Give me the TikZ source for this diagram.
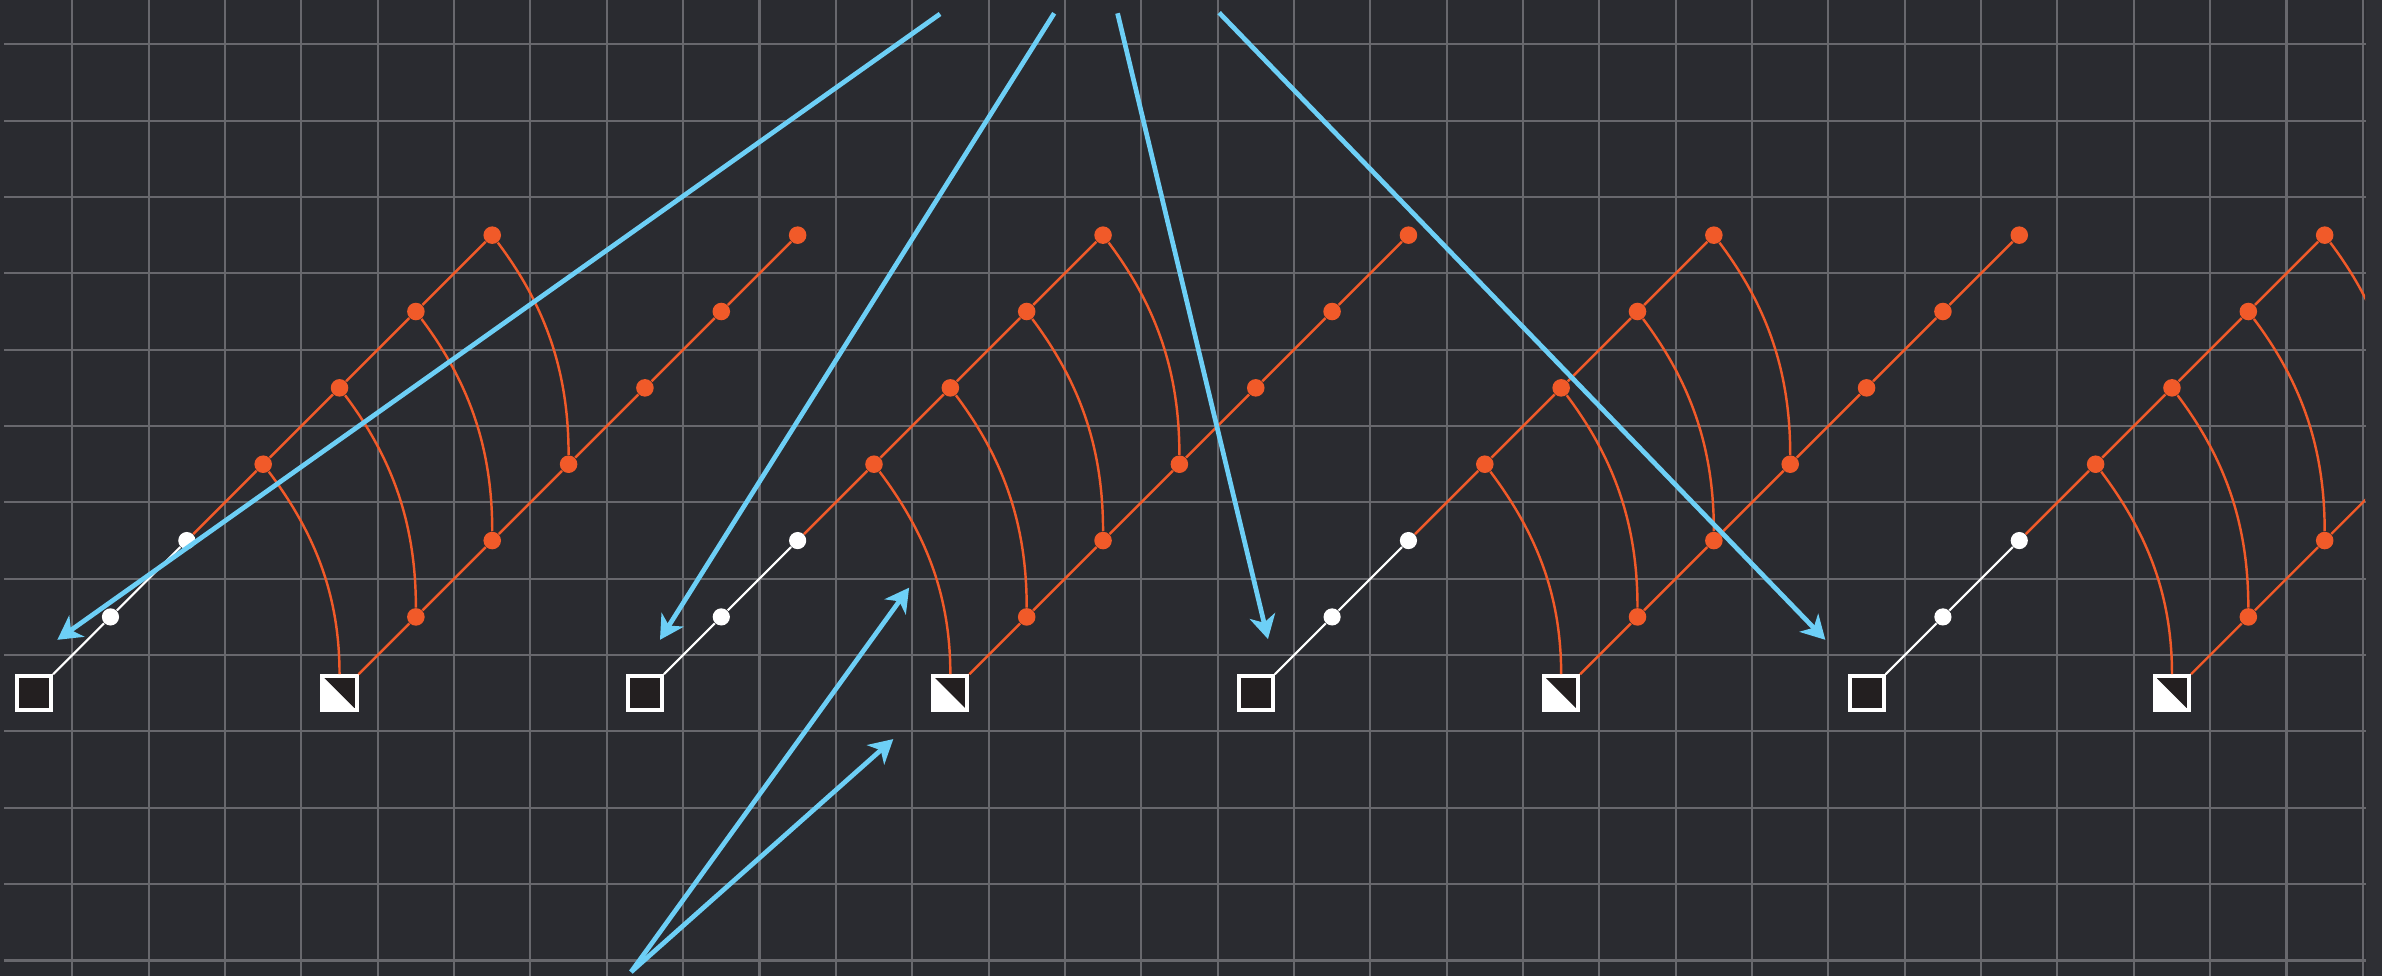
\documentclass[tikz,border=0pt]{standalone}
\usetikzlibrary{arrows.meta}
\definecolor{bg}{HTML}{2A2B30}
\definecolor{bgedge}{HTML}{2E2F34}
\definecolor{gridc}{HTML}{68686D}
\definecolor{orng}{HTML}{F15A29}
\definecolor{skyb}{HTML}{6DCFF6}
\definecolor{sqblack}{HTML}{231F20}
\tikzset{
  odot/.style={circle, fill=orng, inner sep=0pt, minimum size=0.23cm},
  wdot/.style={circle, fill=white, inner sep=0pt, minimum size=0.225cm},
  sqbox/.style={rectangle, draw=white, line width=0.052cm, fill=sqblack, inner sep=0pt, minimum size=0.447cm},
  halfsq/.style={rectangle, draw=white, line width=0.052cm, fill=white, inner sep=0pt, minimum size=0.447cm,
    path picture={\fill[sqblack] (path picture bounding box.north west) -- (path picture bounding box.north east) -- (path picture bounding box.south east) -- cycle;}},
  oline/.style={draw=orng, line width=0.032cm},
  wline/.style={draw=white, line width=0.028cm},
  arcline/.style={draw=orng, line width=0.032cm},
  bluearrow/.style={draw=skyb, line width=0.062cm, -{Stealth[length=0.31cm, width=0.34cm, inset=0.09cm]}},
  gridline/.style={draw=gridc, line width=0.027cm},
}
\begin{document}
\begin{tikzpicture}
% background and bounding box
\fill[bg] (-0.947,0.580) rectangle (30.251,-12.203);
\useasboundingbox (-0.947,0.580) rectangle (30.251,-12.203);
\fill[bgedge] (30.045,0.580) rectangle (30.251,-12.203);
% grid
\foreach \i in {0,...,12} \draw[gridline] (-0.894,-\i) -- (30.045,-\i);
\foreach \i in {0,...,30} \draw[gridline] (\i,0.580) -- (\i,-12.203);
% repeated groups
\begin{scope}
\clip (-0.894,0.580) rectangle (30.03,-12.203);
\foreach \g in {0,1,2,3} {
  \pgfmathsetmacro\a{8*\g-0.5}
  \node[sqbox] (s\g) at (\a,-8.5) {};
  \node[wdot] (w\g-1) at (\a+1,-7.5) {};
  \node[wdot] (w\g-2) at (\a+2,-6.5) {};
  \foreach \k in {1,...,4} \node[odot] (p\g-\k) at (\a+2+\k,-6.5+\k) {};
  \node[halfsq] (h\g) at (\a+4,-8.5) {};
  \foreach \k in {1,...,6} \node[odot] (q\g-\k) at (\a+4+\k,-8.5+\k) {};
  % white connectors
  \draw[wline] (s\g) -- (w\g-1);
  \draw[wline] (w\g-1) -- (w\g-2);
  % orange connectors, first diagonal
  \draw[oline] (w\g-2) -- (p\g-1);
  \draw[oline] (p\g-1) -- (p\g-2);
  \draw[oline] (p\g-2) -- (p\g-3);
  \draw[oline] (p\g-3) -- (p\g-4);
  % second diagonal
  \draw[oline] (h\g) -- (q\g-1);
  \draw[oline] (q\g-1) -- (q\g-2);
  \draw[oline] (q\g-2) -- (q\g-3);
  \draw[oline] (q\g-3) -- (q\g-4);
  \draw[oline] (q\g-4) -- (q\g-5);
  \draw[oline] (q\g-5) -- (q\g-6);
  % arcs
  \draw[arcline] (p\g-1) to[out=-53.13, in=90, looseness=0.93] (h\g);
  \draw[arcline] (p\g-2) to[out=-53.13, in=90, looseness=0.93] (q\g-1);
  \draw[arcline] (p\g-3) to[out=-53.13, in=90, looseness=0.93] (q\g-2);
  \draw[arcline] (p\g-4) to[out=-53.13, in=90, looseness=0.93] (q\g-3);
}
\end{scope}
% blue arrows
\coordinate (t1) at (11.365,0.397);
\coordinate (e1) at (-0.196,-7.80);
\coordinate (t2) at (12.86,0.406);
\coordinate (e2) at (7.697,-7.80);
\coordinate (t3) at (13.69,0.406);
\coordinate (e3) at (15.66,-7.79);
\coordinate (t4) at (15.02,0.414);
\coordinate (e4) at (22.96,-7.80);
\coordinate (b0) at (7.318,-12.15);
\coordinate (f1) at (10.96,-7.117);
\coordinate (f2) at (10.753,-9.10);
\draw[bluearrow] (t1) -- (e1);
\draw[bluearrow] (t2) -- (e2);
\draw[bluearrow] (t3) -- (e3);
\draw[bluearrow] (t4) -- (e4);
\draw[bluearrow] (b0) -- (f1);
\draw[bluearrow] (b0) -- (f2);
\end{tikzpicture}
\end{document}
